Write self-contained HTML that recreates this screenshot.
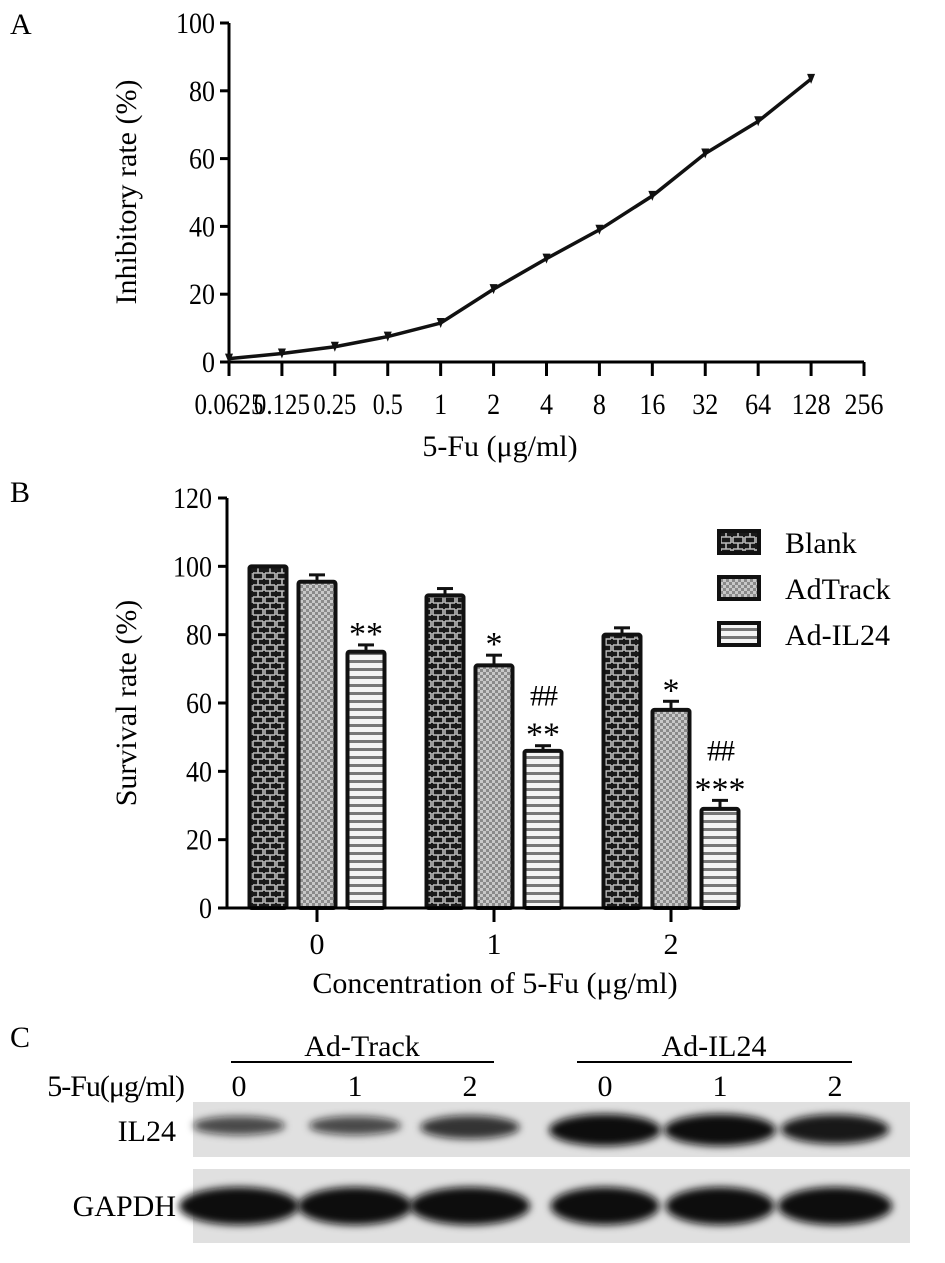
<!DOCTYPE html>
<html><head><meta charset="utf-8"><style>
html,body{margin:0;padding:0;background:#fff;}
svg{display:block;font-family:"Liberation Serif",serif;}
</style></head><body>
<svg width="945" height="1263" viewBox="0 0 945 1263">
<defs>
<pattern id="pBrick" width="12" height="12" patternUnits="userSpaceOnUse">
<rect width="12" height="12" fill="#1a1a1a"/>
<path d="M1 3h10M1 9h10M6 3v6M1 9v3M11 9v3M1 0v3M11 0v3" stroke="#bbb" stroke-width="1.6" fill="none"/>
</pattern>
<pattern id="pCheck" width="6" height="6" patternUnits="userSpaceOnUse">
<rect width="6" height="6" fill="#8a8a8a"/>
<rect width="3" height="3" fill="#c8c8c8"/><rect x="3" y="3" width="3" height="3" fill="#c8c8c8"/>
</pattern>
<pattern id="pStripe" width="8" height="8" patternUnits="userSpaceOnUse">
<rect width="8" height="8" fill="#f4f4f4"/><rect y="4" width="8" height="3" fill="#777"/>
</pattern>
<filter id="blur" x="-20%" y="-50%" width="140%" height="200%"><feGaussianBlur stdDeviation="4"/></filter>
</defs>

<text x="10" y="34" font-size="30">A</text>
<g id="chartA"></g>

<text x="10" y="502" font-size="30">B</text>
<g id="chartB"></g>

<text x="10" y="1047" font-size="30">C</text>
<g id="blot"></g>
</svg>
<script>
// ---- Panel A data ----
const aCats = ["0.0625","0.125","0.25","0.5","1","2","4","8","16","32","64","128","256"];
const aVals = [1,2.5,4.5,7.5,11.5,21.5,30.5,39,49,61.5,71,83.5];
const aYTicks = [0,20,40,60,80,100];
// ---- Panel B data ----
const bGroups = ["0","1","2"];
const bSeries = ["Blank","AdTrack","Ad-IL24"];
const bBlank = [100,91.5,80];
const bAdTrack = [95.5,71,58];
const bAdIL24 = [75,46,29];
const bErr = [[0,2,2],[2,3,1.5],[2,2.5,2.5]];
const bMarks = [["","","**"],["","*","##\n**"],["","*","##\n***"]];
const bYTicks = [0,20,40,60,80,100,120];
// ---- Panel C ----
const cLanes = ["0","1","2","0","1","2"];
const cIL24 = [0.45,0.45,0.65,1,1,0.9];
const cGAPDH = [1,0.95,1,0.9,0.9,0.95];

const NS="http://www.w3.org/2000/svg";
function mk(tag,attrs,parent,txt){const e=document.createElementNS(NS,tag);for(const k in attrs)e.setAttribute(k,attrs[k]);if(txt!==undefined)e.textContent=txt;parent.appendChild(e);return e;}
function tw(s){let w=0;for(const ch of s)w+=(ch==='.')?4:13;return w;}

// Panel A
(function(){
const g=document.getElementById('chartA');
const x0=229,x1=864,y0=362,y1=23;
const xA=i=>x0+(x1-x0)*i/(aCats.length-1);
const yA=v=>y0-(y0-y1)*v/100;
let e=mk('line',{x1:x0,y1:y0,x2:x0,y2:y1,stroke:'#000','stroke-width':3},g);

e=mk('line',{x1:x0,y1:y0,x2:x1,y2:y0,stroke:'#000','stroke-width':3},g);

aYTicks.forEach(v=>{mk('line',{x1:x0-9,x2:x0,y1:yA(v),y2:yA(v),stroke:'#000','stroke-width':3},g);
 const s=String(v);
 e=mk('text',{x:x0-14-tw(s),y:yA(v)+10,'font-size':30,textLength:tw(s),lengthAdjust:'spacingAndGlyphs'},g,s);
 });
aCats.forEach((c,i)=>{mk('line',{x1:xA(i),x2:xA(i),y1:y0,y2:y0+14,stroke:'#000','stroke-width':3},g);
 e=mk('text',{x:xA(i)-tw(c)/2,y:y0+52,'font-size':30,textLength:tw(c),lengthAdjust:'spacingAndGlyphs'},g,c);
 });
const pts=aVals.map((v,i)=>xA(i)+','+yA(v)).join(' ');
e=mk('polyline',{points:pts,fill:'none',stroke:'#111','stroke-width':3.5},g);

aVals.forEach((v,i)=>{e=mk('path',{d:`M${xA(i)-4} ${yA(v)-5}h8l-4 10z`,fill:'#111'},g);
 });
e=mk('text',{x:0,y:0,'font-size':30,'text-anchor':'middle',transform:'translate(136,192) rotate(-90)'},g,'Inhibitory rate (%)');

e=mk('text',{x:500,y:456,'font-size':30,'text-anchor':'middle'},g,'5-Fu (μg/ml)');

})();

// Panel B
(function(){
const g=document.getElementById('chartB');
const x0=227,x1=740,y0=908,y1=498;
const yB=v=>y0-(y0-y1)*v/120;
const cx=i=>317+177*i;
const fills=['url(#pBrick)','url(#pCheck)','url(#pStripe)'];
const series=[bBlank,bAdTrack,bAdIL24];
const bw=37,step=49;
let e;
series.forEach((s,si)=>s.forEach((v,gi)=>{
 const x=cx(gi)+(si-1)*step-bw/2;
 const top=yB(v+bErr[gi][si]);
 if(bErr[gi][si]>0){mk('line',{x1:x+bw/2,x2:x+bw/2,y1:top,y2:yB(v),stroke:'#111','stroke-width':3},g);
  mk('line',{x1:x+bw/2-8,x2:x+bw/2+8,y1:top,y2:top,stroke:'#111','stroke-width':3},g);}
 e=mk('rect',{x:x,y:yB(v),width:bw,height:y0-yB(v),fill:fills[si],stroke:'#111','stroke-width':4,rx:2},g);
 
 const m=bMarks[gi][si];
 if(m){const lines=m.split('\n');lines.forEach((l,li)=>{
  const isHash=l.indexOf('#')>=0;
  e=mk('text',{x:x+bw/2,y:top-8-(lines.length-1-li)*32+(isHash?0:8),'font-size':isHash?30:34,'text-anchor':'middle','letter-spacing':isHash?'-2':'0'},g,l);
  });}
}));
e=mk('line',{x1:x0,y1:y0,x2:x0,y2:y1,stroke:'#000','stroke-width':3},g);

e=mk('line',{x1:x0-9,y1:y0,x2:x1,y2:y0,stroke:'#000','stroke-width':3},g);

bYTicks.forEach(v=>{mk('line',{x1:x0-9,x2:x0,y1:yB(v),y2:yB(v),stroke:'#000','stroke-width':3},g);
 const s=String(v);
 e=mk('text',{x:x0-15-tw(s),y:yB(v)+10,'font-size':30,textLength:tw(s),lengthAdjust:'spacingAndGlyphs'},g,s);
 });
bGroups.forEach((c,i)=>{mk('line',{x1:cx(i),x2:cx(i),y1:y0,y2:y0+14,stroke:'#000','stroke-width':3},g);
 e=mk('text',{x:cx(i),y:y0+46,'font-size':30,'text-anchor':'middle'},g,c);
 });
e=mk('text',{x:0,y:0,'font-size':30,'text-anchor':'middle',transform:'translate(136,703) rotate(-90)'},g,'Survival rate (%)');

e=mk('text',{x:495,y:993,'font-size':30,'text-anchor':'middle'},g,'Concentration of 5-Fu (μg/ml)');

bSeries.forEach((s,i)=>{const y=531+46*i;
 e=mk('rect',{x:719,y:y,width:40,height:22,fill:fills[i],stroke:'#111','stroke-width':4},g);
 
 e=mk('text',{x:785,y:y+22,'font-size':30},g,s);
 });
})();

// Panel C
(function(){
const g=document.getElementById('blot');
const lx=[239,355,470,605,720,835];
let e;
e=mk('text',{x:362,y:1056,'font-size':30,'text-anchor':'middle'},g,'Ad-Track');

mk('line',{x1:231,x2:494,y1:1062,y2:1062,stroke:'#000','stroke-width':2},g);
e=mk('text',{x:714,y:1056,'font-size':30,'text-anchor':'middle'},g,'Ad-IL24');

mk('line',{x1:577,x2:852,y1:1062,y2:1062,stroke:'#000','stroke-width':2},g);
e=mk('text',{x:184,y:1096,'font-size':30,'text-anchor':'end','letter-spacing':'-1'},g,'5-Fu(μg/ml)');

cLanes.forEach((c,i)=>{e=mk('text',{x:lx[i],y:1096,'font-size':30,'text-anchor':'middle'},g,c);
 });
e=mk('rect',{x:193,y:1102,width:717,height:55,fill:'#e0e0e0'},g);

e=mk('rect',{x:193,y:1169,width:717,height:74,fill:'#e0e0e0'},g);

cIL24.forEach((v,i)=>{const h=8+24*v;e=mk('ellipse',{cx:lx[i],cy:1122+8*v,rx:38+18*v,ry:h/2,fill:'#111','fill-opacity':0.5+0.5*v,filter:'url(#blur)'},g);
 });
cGAPDH.forEach((v,i)=>{e=mk('ellipse',{cx:lx[i],cy:1206,rx:56*v+4,ry:19,fill:'#0a0a0a',filter:'url(#blur)'},g);
 });
e=mk('text',{x:176,y:1141,'font-size':30,'text-anchor':'end'},g,'IL24');

e=mk('text',{x:176,y:1216,'font-size':30,'text-anchor':'end'},g,'GAPDH');

})();
</script>
</body></html>
